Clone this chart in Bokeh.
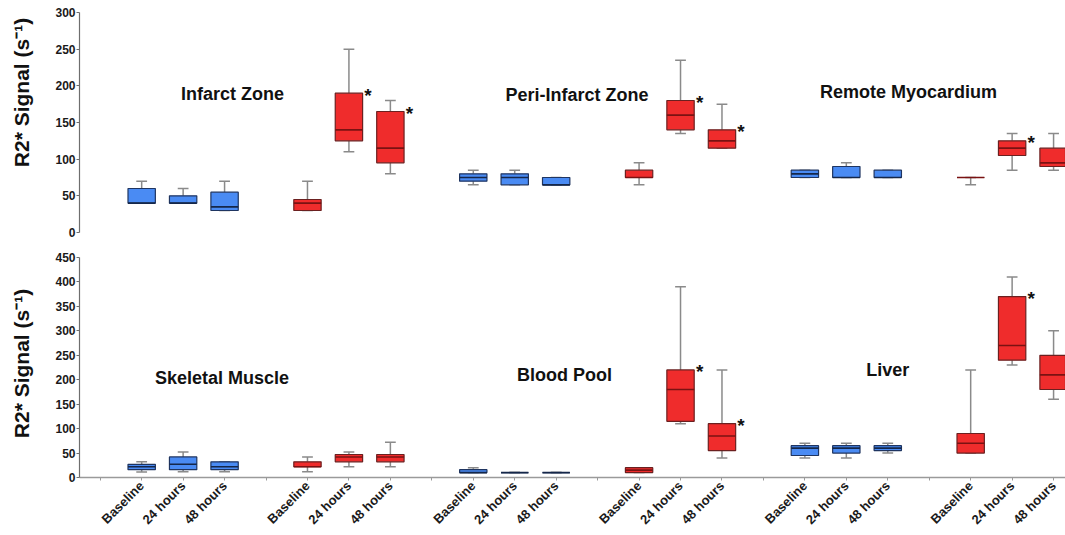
import math

from bokeh.core.properties import value
from bokeh.embed import file_html
from bokeh.layouts import column, row
from bokeh.models import ColumnDataSource, FixedTicker, Range1d
from bokeh.plotting import figure
from bokeh.resources import INLINE

# ---------------------------------------------------------------------------
# Data: five-number summaries (min, Q1, median, Q3, max) in s^-1.
# Each list holds cohort A (Baseline, 24 h, 48 h) then cohort B (same order).
# ---------------------------------------------------------------------------
time_points = ["Baseline", "24 hours", "48 hours"]

top_regions = ["Infarct Zone", "Peri-Infarct Zone", "Remote Myocardium"]
bottom_regions = ["Skeletal Muscle", "Blood Pool", "Liver"]

infarct_zone = [(40, 40, 40, 60, 70), (40, 40, 40, 50, 60), (30, 30, 35, 55, 70),
                (30, 30, 40, 45, 70), (110, 125, 140, 190, 250), (80, 95, 115, 165, 180)]
peri_infarct_zone = [(65, 70, 75, 80, 85), (65, 65, 75, 80, 85), (65, 65, 65, 75, 75),
                     (65, 75, 75, 85, 95), (135, 140, 160, 180, 235), (115, 115, 125, 140, 175)]
remote_myocardium = [(75, 75, 80, 85, 85), (75, 75, 75, 90, 95), (75, 75, 75, 85, 85),
                     (65, 75, 75, 75, 75), (85, 105, 115, 125, 135), (85, 90, 95, 115, 135)]
skeletal_muscle = [(11, 16, 22, 27, 32), (12, 16, 27, 42, 52), (12, 16, 22, 32, 32),
                   (12, 22, 22, 32, 42), (22, 32, 42, 47, 52), (22, 32, 42, 47, 72)]
blood_pool = [(10, 10, 10, 16, 20), (10, 10, 10, 10, 10), (10, 10, 10, 10, 10),
              (10, 10, 15, 20, 20), (110, 115, 180, 220, 390), (40, 55, 85, 110, 220)]
liver = [(40, 45, 60, 65, 70), (40, 50, 60, 65, 70), (50, 55, 60, 65, 70),
         (50, 50, 70, 90, 220), (230, 240, 270, 370, 410), (160, 180, 210, 250, 300)]

# significance flags, same order as the boxes
infarct_zone_sig = [False, False, False, False, True, True]
peri_infarct_zone_sig = [False, False, False, False, True, True]
remote_myocardium_sig = [False, False, False, False, True, False]
skeletal_muscle_sig = [False, False, False, False, False, False]
blood_pool_sig = [False, False, False, False, True, True]
liver_sig = [False, False, False, False, True, False]

y_label = "R2* Signal (s\u207b\u00b9)"

# ---------------------------------------------------------------------------
# Layout / style
# ---------------------------------------------------------------------------
FONT = "Liberation Sans"
SLOTS_PER_REGION = 8          # empty, A x3, empty, B x3
BOX_W = 0.66
CAP_W = 0.26
LABEL_COL_W = 40              # narrow strip holding the rotated y label
FRAME_LEFT = 79
PX_PER_SLOT = 41.45
X_END = (1065 - FRAME_LEFT) / PX_PER_SLOT
TOP_H, BOTTOM_H = 245, 290

COHORT_FILL = ["#4a8bf3", "#ef2c2c"]
COHORT_EDGE = ["#1f3561", "#6b2020"]
COHORT_MEDIAN = ["#15274a", "#7a1212"]
WHISKER = "#8a8a8a"
INK = "#111111"


def slot_x(region_idx, box_idx):
    cohort, t = divmod(box_idx, 3)
    return region_idx * SLOTS_PER_REGION + 1 + cohort * 4 + t + 0.5


def build_sources(summaries, flags):
    box = dict(x=[], lo=[], q1=[], med=[], q3=[], hi=[], cl=[], cr=[], bl=[], br=[],
               fill=[], edge=[], mid=[])
    star = dict(x=[], y=[], t=[])
    for r, (boxes, sig) in enumerate(zip(summaries, flags)):
        for b, (lo, q1, med, q3, hi) in enumerate(boxes):
            x = slot_x(r, b)
            cohort = b // 3
            box["x"].append(x)
            box["lo"].append(lo)
            box["q1"].append(q1)
            box["med"].append(med)
            box["q3"].append(q3)
            box["hi"].append(hi)
            box["cl"].append(x - CAP_W / 2)
            box["cr"].append(x + CAP_W / 2)
            box["bl"].append(x - BOX_W / 2)
            box["br"].append(x + BOX_W / 2)
            box["fill"].append(COHORT_FILL[cohort])
            box["edge"].append(COHORT_EDGE[cohort])
            box["mid"].append(COHORT_MEDIAN[cohort])
            if sig[b]:
                star["x"].append(x + 0.46)
                star["y"].append(q3)
                star["t"].append("*")
    return ColumnDataSource(box), ColumnDataSource(star)


def label_strip(height, center_from_top):
    """Narrow canvas carrying the rotated y-axis caption."""
    s = figure(width=LABEL_COL_W, height=height,
               x_range=Range1d(0, LABEL_COL_W), y_range=Range1d(0, height),
               output_backend="svg", toolbar_location=None,
               x_axis_location=None, y_axis_location=None,
               min_border=0, background_fill_color="white", border_fill_color="white")
    s.outline_line_color = None
    s.grid.visible = False
    s.text(x=[21], y=[height - center_from_top], text=[y_label], angle=math.pi / 2,
           text_font=value(FONT), text_font_style="bold", text_font_size="21px",
           text_align="center", text_baseline="middle", text_color=INK)
    return s


def make_row(regions, summaries, flags, y_max, title_pos, bottom_axis):
    height = BOTTOM_H if bottom_axis else TOP_H
    p = figure(
        width=1065 - LABEL_COL_W, height=height,
        x_range=Range1d(0, X_END), y_range=Range1d(0, y_max),
        output_backend="svg", toolbar_location=None,
        x_axis_location="below" if bottom_axis else None,
        min_border_left=FRAME_LEFT - LABEL_COL_W, min_border_right=0,
        min_border_top=12, min_border_bottom=58 if bottom_axis else 13,
        background_fill_color="white", border_fill_color="white",
    )
    p.outline_line_color = None
    p.grid.visible = False

    # y axis
    yax = p.yaxis[0]
    yax.ticker = FixedTicker(ticks=list(range(0, y_max + 1, 50)))
    yax.axis_line_color = "#6e6e6e"
    yax.axis_line_width = 1.2
    yax.major_tick_line_color = "#6e6e6e"
    yax.major_tick_in = 0
    yax.major_tick_out = 3
    yax.minor_tick_line_color = None
    yax.major_label_standoff = 1
    yax.major_label_text_font = FONT
    yax.major_label_text_font_style = "bold"
    yax.major_label_text_font_size = "12px"
    yax.major_label_text_color = "#1a1a1a"

    if bottom_axis:
        xax = p.xaxis[0]
        ticks = [i + 0.5 for i in range(SLOTS_PER_REGION * len(regions))]
        labels = {}
        for t in ticks:
            k = int(t) % SLOTS_PER_REGION
            labels[t] = time_points[(k - 1) % 4] if k not in (0, 4) else ""
        xax.ticker = FixedTicker(ticks=ticks)
        xax.major_label_overrides = labels
        xax.major_label_orientation = math.pi / 4
        xax.axis_line_color = "#9a9a9a"
        xax.axis_line_width = 1.6
        xax.major_tick_line_color = "#9a9a9a"
        xax.major_tick_in = 0
        xax.major_tick_out = 3
        xax.minor_tick_line_color = None
        xax.major_label_standoff = 3
        xax.major_label_text_font = FONT
        xax.major_label_text_font_style = "bold"
        xax.major_label_text_font_size = "13px"
        xax.major_label_text_color = "#1a1a1a"

    box_src, star_src = build_sources(summaries, flags)

    # whiskers and caps
    p.segment(x0="x", y0="q3", x1="x", y1="hi", source=box_src,
              line_color=WHISKER, line_width=1.5)
    p.segment(x0="x", y0="lo", x1="x", y1="q1", source=box_src,
              line_color=WHISKER, line_width=1.5)
    p.segment(x0="cl", y0="hi", x1="cr", y1="hi", source=box_src,
              line_color=WHISKER, line_width=1.5)
    p.segment(x0="cl", y0="lo", x1="cr", y1="lo", source=box_src,
              line_color=WHISKER, line_width=1.5)

    # boxes and medians
    p.vbar(x="x", width=BOX_W, bottom="q1", top="q3", source=box_src,
           fill_color="fill", line_color="edge", line_width=1.2)
    p.segment(x0="bl", y0="med", x1="br", y1="med", source=box_src,
              line_color="mid", line_width=1.6)

    # significance markers
    p.text(x="x", y="y", text="t", source=star_src,
           text_font=value(FONT), text_font_style="bold", text_font_size="19px",
           text_align="center", text_baseline="alphabetic", y_offset=2,
           text_color=INK)

    # region titles
    tx = [i * SLOTS_PER_REGION + dx for i, (dx, _) in enumerate(title_pos)]
    ty = [dy for _, dy in title_pos]
    p.text(x=tx, y=ty, text=regions,
           text_font=value(FONT), text_font_style="bold", text_font_size="18px",
           text_align="center", text_baseline="middle", text_color=INK)
    return p


top = make_row(top_regions,
               [infarct_zone, peri_infarct_zone, remote_myocardium],
               [infarct_zone_sig, peri_infarct_zone_sig, remote_myocardium_sig],
               300, [(3.69, 189), (4.0, 187), (4.0, 191)], False)
bottom = make_row(bottom_regions,
                  [skeletal_muscle, blood_pool, liver],
                  [skeletal_muscle_sig, blood_pool_sig, liver_sig],
                  450, [(3.44, 203), (3.7, 209), (3.5, 219)], True)

labels_col = column(label_strip(TOP_H, 92), label_strip(BOTTOM_H, 363 - TOP_H), spacing=0)
layout = row(labels_col, column(top, bottom, spacing=0), spacing=0)
open("out.html", "w").write(file_html(layout, INLINE))
